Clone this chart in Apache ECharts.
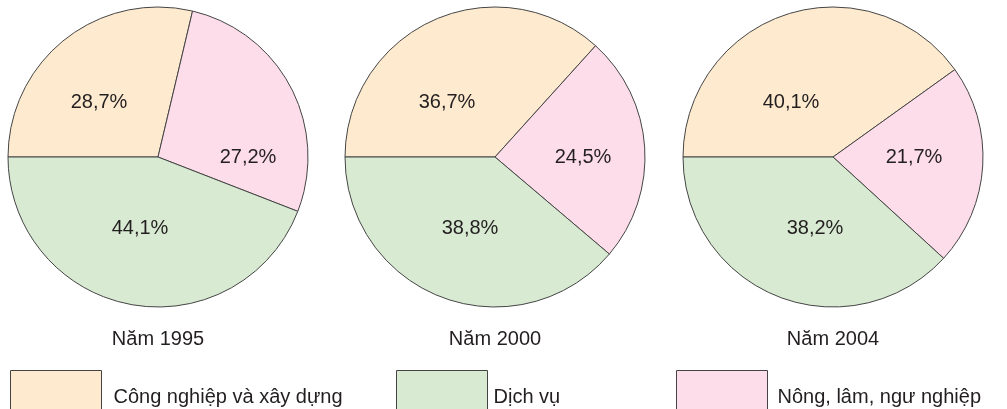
<!DOCTYPE html>
<html>
<head>
<meta charset="utf-8">
<script src="https://cdn.jsdelivr.net/npm/echarts@6/dist/echarts.min.js"></script>
<style>
  html, body { margin: 0; padding: 0; background: #fff; }
  #main { width: 1007px; height: 409px; }
</style>
</head>
<body>
<div id="main"></div>
<script>
// du lieu
var sectors = ['Công nghiệp và xây dựng', 'Nông, lâm, ngư nghiệp', 'Dịch vụ'];
var years = ['Năm 1995', 'Năm 2000', 'Năm 2004'];
var v1995 = [28.7, 27.2, 44.1];
var v2000 = [36.7, 24.5, 38.8];
var v2004 = [40.1, 21.7, 38.2];
var values = [v1995, v2000, v2004];

var colors = ['#feebcf', '#fcdde9', '#d8ead2'];
var centersX = [158, 495, 833];
var centerY = 157;
// vi tri nhan so voi tam hinh tron
var labelOffsets = [
  [[-59, -55], [90, 0], [-18, 71]],
  [[-48, -55], [88, 0], [-25, 71]],
  [[-42, -55], [81, 0], [-18, 71]]
];
var legendLeft = [10, 396, 676];
var legendGap = [7, 1, 5];
// thu tu trong chu thich
var legendOrder = [0, 2, 1];

var font = 'Liberation Sans, Arial, Helvetica, sans-serif';

var myChart = echarts.init(document.getElementById('main'));

var series = values.map(function (vals, i) {
  return {
    type: 'pie',
    center: [centersX[i], centerY],
    radius: 150,
    startAngle: 180,
    clockwise: true,
    silent: true,
    animation: false,
    avoidLabelOverlap: false,
    itemStyle: { borderColor: '#444', borderWidth: 1 },
    label: {
      show: true,
      position: 'inside',
      color: '#231f20',
      fontFamily: font,
      fontSize: 20,
      formatter: function (p) { return String(p.value).replace('.', ',') + '%'; }
    },
    labelLine: { show: false },
    labelLayout: function (p) {
      var off = labelOffsets[i][p.dataIndex];
      return { x: centersX[i] + off[0], y: centerY + off[1], align: 'center', verticalAlign: 'middle' };
    },
    data: vals.map(function (v, k) {
      return { name: sectors[k], value: v, itemStyle: { color: colors[k] } };
    })
  };
});

var titles = years.map(function (t, i) {
  return {
    text: t,
    left: centersX[i],
    top: 329,
    padding: 0,
    textAlign: 'center',
    textStyle: { fontFamily: font, fontSize: 20, fontWeight: 'normal', color: '#231f20' }
  };
});

var legends = legendOrder.map(function (k, j) {
  return {
    data: [sectors[k]],
    left: legendLeft[j],
    top: 370,
    padding: 0,
    icon: 'rect',
    itemWidth: 91,
    itemHeight: 54,
    selectedMode: false,
    itemStyle: { borderColor: '#444', borderWidth: 1 },
    textStyle: {
      fontFamily: font, fontSize: 20, color: '#231f20',
      padding: [0, 0, 0, legendGap[j]]
    }
  };
});

myChart.setOption({
  animation: false,
  title: titles,
  legend: legends,
  series: series
});
</script>
</body>
</html>
